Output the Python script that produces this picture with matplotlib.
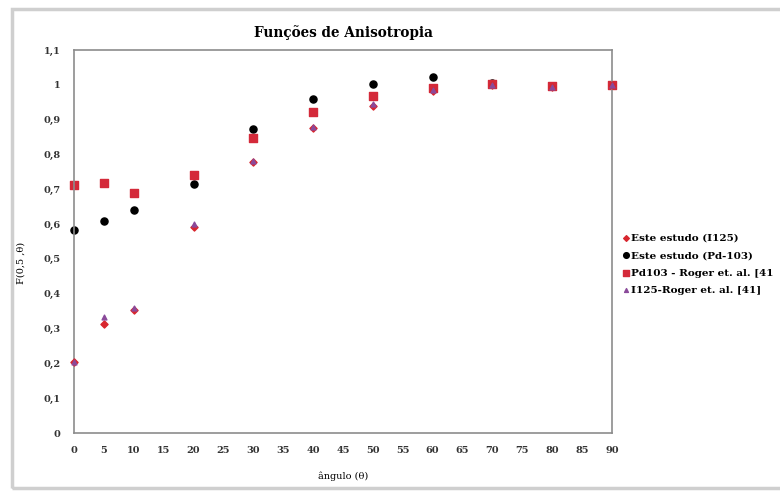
import matplotlib
matplotlib.use("Agg")
import matplotlib.pyplot as plt
from matplotlib.patches import Rectangle
from matplotlib.ticker import FuncFormatter

# === Dados ===
angulos = [0, 5, 10, 20, 30, 40, 50, 60, 70, 80, 90]
i125_estudo = [0.205, 0.312, 0.353, 0.593, 0.778, 0.875, 0.940, 0.983, 1.000, 0.995, 1.000]
pd103_estudo = [0.583, 0.610, 0.641, 0.715, 0.873, 0.958, 1.001, 1.021, 1.005, 0.998, 1.000]
pd103_roger = [0.712, 0.717, 0.688, 0.741, 0.847, 0.921, 0.969, 0.990, 1.002, 0.997, 1.000]
i125_roger = [0.205, 0.332, 0.360, 0.600, 0.782, 0.880, 0.945, 0.985, 1.000, 0.995, 1.000]

rotulos = ["Este estudo (I125)", "Este estudo (Pd-103)",
           "Pd103 - Roger et. al. [41", "I125-Roger et. al. [41]"]

plt.rcParams['font.family'] = ['DejaVu Serif']
plt.rcParams['font.weight'] = 'bold'

fig = plt.figure(figsize=(7.8, 4.93), dpi=100)
ax = fig.add_axes([0.0949, 0.1217, 0.6897, 0.7769])

# === Séries ===
ax.scatter(angulos, i125_estudo, marker='D', s=13, color='#d8262e', label=rotulos[0], zorder=3)
ax.scatter(angulos, pd103_estudo, marker='o', s=26, color='black', label=rotulos[1], zorder=2)
ax.scatter(angulos, pd103_roger, marker='s', s=28, color='#d42a3a', label=rotulos[2], zorder=2)
ax.scatter(angulos, i125_roger, marker='^', s=12, color='#8a4a9a', label=rotulos[3], zorder=4)

# === Eixos ===
ax.set_xlim(0, 90)
ax.set_ylim(0, 1.1)
ax.set_xticks(range(0, 91, 5))
ax.set_yticks([i / 10 for i in range(12)])
ax.yaxis.set_major_formatter(FuncFormatter(lambda v, p: ("%g" % round(v, 1)).replace(".", ",")))
ax.tick_params(length=0, labelsize=7, colors='#333333')
ax.tick_params(axis='y', pad=10)
ax.tick_params(axis='x', pad=9)
for s in ax.spines.values():
    s.set_color('#8c8c8c')
    s.set_linewidth(1.2)
    s.set_clip_on(False)
for c in ax.collections:
    c.set_clip_on(False)

ax.set_title("Funções de Anisotropia", fontsize=9.8, fontweight='bold', pad=9)
ax.set_xlabel("ângulo (θ)", fontsize=7, labelpad=12)
ax.set_ylabel("F(0,5 ,θ)", fontsize=7)
ax.yaxis.set_label_coords(-0.091, 0.444)

# === Legenda ===
fig.legend(loc='upper left', bbox_to_anchor=(0.792, 0.535), frameon=False,
           fontsize=7.5, handletextpad=0.15, handlelength=0.7, labelspacing=0.78,
           markerscale=0.8, borderaxespad=0)

# === Moldura ===
fig.patches.append(Rectangle((12 / 780, 5 / 493), 1.0, 479 / 493, transform=fig.transFigure,
                             fill=False, edgecolor='#cfcfcf', linewidth=2.5))

fig.savefig("out.png", dpi=100)
